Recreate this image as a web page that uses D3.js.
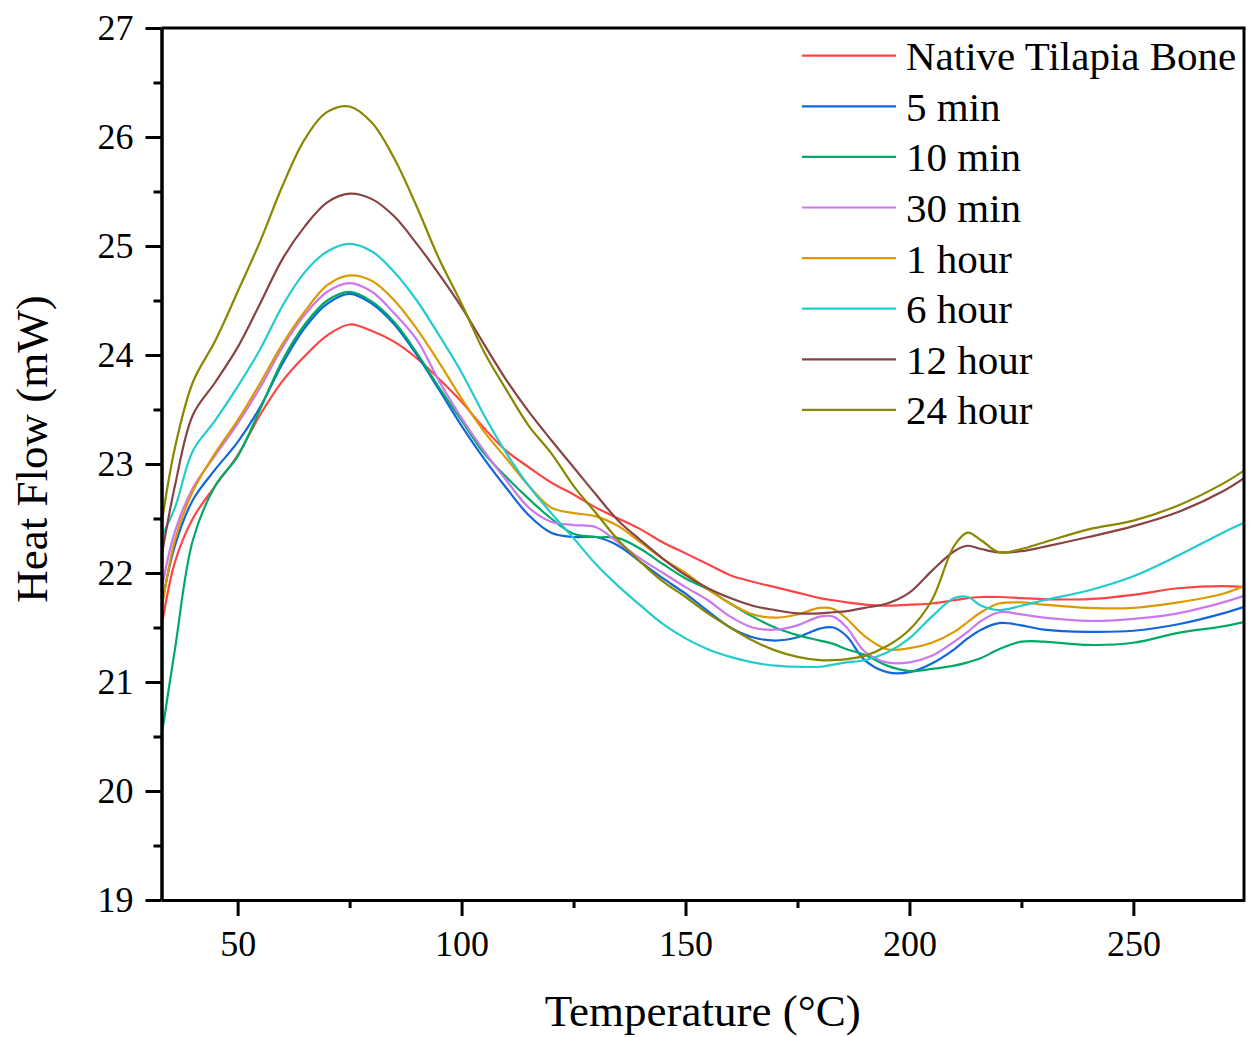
<!DOCTYPE html>
<html>
<head>
<meta charset="utf-8">
<script src="https://cdn.jsdelivr.net/npm/d3@7"></script>
<style>
html,body{margin:0;padding:0;background:#fff;}
svg{display:block;}
text{font-family:"Liberation Serif","Times New Roman",serif;fill:#000;}
</style>
</head>
<body>
<svg id="chart" width="1250" height="1037"></svg>
<script>
// ---- data ----
const temps = [33,36,40,45,50,55,60,65,70,75,80,85,90,95,100,105,110,115,120,125,130,135,140,145,150,155,160,165,170,175,180,183,186,190,195,200,205,210,213,216,220,225,230,240,250,260,270,274.7];

const seriesNames = ["Native Tilapia Bone","5 min","10 min","30 min","1 hour","6 hour","12 hour","24 hour"];
const seriesColors = ["#ff4444","#1166dd","#00aa66","#cc77ee","#dd9900","#22cccc","#884444","#888800"];

const nativeBone = [21.5,22.1,22.5,22.8,23.08,23.45,23.76,23.99,24.18,24.28,24.22,24.12,23.97,23.78,23.57,23.33,23.12,22.97,22.83,22.72,22.6,22.5,22.4,22.28,22.18,22.08,21.98,21.92,21.87,21.82,21.77,21.75,21.73,21.71,21.7,21.71,21.72,21.75,21.77,21.78,21.78,21.77,21.76,21.76,21.8,21.86,21.88,21.87];
const min5 = [21.7,22.25,22.67,22.95,23.2,23.52,23.92,24.25,24.47,24.56,24.47,24.28,24.0,23.68,23.35,23.05,22.78,22.53,22.37,22.33,22.33,22.25,22.1,21.95,21.81,21.65,21.5,21.41,21.38,21.41,21.49,21.5,21.42,21.2,21.09,21.09,21.17,21.3,21.4,21.48,21.54,21.52,21.48,21.46,21.47,21.53,21.63,21.69];
const min10 = [20.5,21.3,22.3,22.8,23.07,23.5,23.95,24.28,24.5,24.58,24.49,24.3,24.02,23.7,23.4,23.1,22.88,22.68,22.5,22.36,22.33,22.32,22.22,22.08,21.95,21.85,21.72,21.6,21.5,21.43,21.38,21.35,21.3,21.25,21.15,21.1,21.12,21.15,21.18,21.22,21.3,21.37,21.37,21.34,21.36,21.45,21.51,21.55];
const min30 = [21.85,22.38,22.78,23.08,23.37,23.7,24.07,24.37,24.58,24.66,24.58,24.38,24.14,23.76,23.42,23.12,22.85,22.6,22.47,22.44,22.42,22.28,22.13,22.0,21.87,21.75,21.6,21.5,21.48,21.52,21.6,21.6,21.5,21.28,21.18,21.18,21.24,21.37,21.46,21.56,21.64,21.62,21.59,21.56,21.58,21.63,21.73,21.79];
const hour1 = [21.65,22.3,22.75,23.1,23.4,23.74,24.1,24.4,24.64,24.73,24.68,24.5,24.24,23.93,23.6,23.3,23.05,22.8,22.6,22.55,22.52,22.43,22.28,22.13,22.0,21.85,21.72,21.62,21.59,21.62,21.68,21.67,21.58,21.42,21.3,21.31,21.36,21.46,21.55,21.64,21.72,21.73,21.71,21.68,21.68,21.73,21.81,21.88];
const hour6 = [22.33,22.6,23.12,23.4,23.71,24.05,24.45,24.76,24.95,25.02,24.95,24.76,24.5,24.18,23.84,23.45,23.1,22.8,22.55,22.32,22.08,21.88,21.7,21.53,21.4,21.3,21.23,21.18,21.15,21.14,21.14,21.16,21.18,21.2,21.27,21.4,21.6,21.77,21.78,21.7,21.66,21.7,21.75,21.84,21.97,22.16,22.37,22.46];
const hour12 = [22.15,22.8,23.45,23.75,24.07,24.47,24.88,25.18,25.4,25.48,25.43,25.27,25.02,24.74,24.44,24.1,23.77,23.48,23.22,22.97,22.72,22.48,22.3,22.13,21.98,21.86,21.77,21.7,21.66,21.63,21.63,21.64,21.65,21.68,21.72,21.82,22.02,22.2,22.25,22.22,22.19,22.2,22.24,22.33,22.43,22.56,22.75,22.87];
const hour24 = [22.45,23.15,23.75,24.13,24.58,25.04,25.55,25.98,26.23,26.28,26.13,25.8,25.36,24.88,24.47,24.03,23.68,23.35,23.1,22.8,22.55,22.3,22.1,21.92,21.78,21.63,21.5,21.38,21.29,21.23,21.2,21.2,21.21,21.24,21.33,21.48,21.75,22.25,22.37,22.3,22.19,22.22,22.28,22.4,22.48,22.62,22.82,22.94];

const seriesValues = [nativeBone,min5,min10,min30,hour1,hour6,hour12,hour24];

const xMajorTicks = [50,100,150,200,250];
const xMinorTicks = [75,125,175,225];
const yMajorTicks = [19,20,21,22,23,24,25,26,27];
const yMinorTicks = [19.5,20.5,21.5,22.5,23.5,24.5,25.5,26.5];

// ---- layout ----
const svg = d3.select("#chart");
const pL = 161.5, pR = 1244, pT = 28, pB = 900;
const x = d3.scaleLinear().domain([33, 274.7]).range([pL, pR]);
const y = d3.scaleLinear().domain([19, 27]).range([pB, pT]);

svg.append("defs").append("clipPath").attr("id","clip")
  .append("rect").attr("x",pL).attr("y",pT).attr("width",pR-pL).attr("height",pB-pT);

// curves
const line = d3.line().x(d=>x(d[0])).y(d=>y(d[1])).curve(d3.curveCatmullRom.alpha(0.5));
const gLines = svg.append("g").attr("clip-path","url(#clip)");
seriesValues.forEach((vals,i)=>{
  gLines.append("path")
    .datum(temps.map((t,j)=>[t,vals[j]]))
    .attr("d",line)
    .attr("fill","none")
    .attr("stroke",seriesColors[i])
    .attr("stroke-width",2.2)
    .attr("stroke-linejoin","round");
});

// axes
function styleAxis(g){
  g.selectAll(".domain").attr("stroke","#000").attr("stroke-width",3);
  g.selectAll(".tick line").attr("stroke","#000").attr("stroke-width",3);
  g.selectAll(".tick text").style("font-family","'Liberation Serif','Times New Roman',serif").style("font-size","36px").attr("fill","#000");
}
const xAxis = svg.append("g").attr("transform",`translate(0,${pB})`)
  .call(d3.axisBottom(x).tickValues(xMajorTicks).tickSize(16).tickPadding(14).tickFormat(d3.format("d")).tickSizeOuter(0));
styleAxis(xAxis);
const xMinor = svg.append("g").attr("transform",`translate(0,${pB})`)
  .call(d3.axisBottom(x).tickValues(xMinorTicks).tickSize(8).tickFormat("").tickSizeOuter(0));
styleAxis(xMinor);

const yAxis = svg.append("g").attr("transform",`translate(${pL},0)`)
  .call(d3.axisLeft(y).tickValues(yMajorTicks).tickSize(16).tickPadding(12).tickFormat(d3.format("d")).tickSizeOuter(0));
styleAxis(yAxis);
const yMinor = svg.append("g").attr("transform",`translate(${pL},0)`)
  .call(d3.axisLeft(y).tickValues(yMinorTicks).tickSize(8).tickFormat("").tickSizeOuter(0));
styleAxis(yMinor);

// frame top/right
svg.append("line").attr("x1",pL).attr("x2",pR+1.5).attr("y1",pT).attr("y2",pT).attr("stroke","#000").attr("stroke-width",3);
svg.append("line").attr("x1",pR).attr("x2",pR).attr("y1",pT).attr("y2",pB+1.5).attr("stroke","#000").attr("stroke-width",3);

// titles
svg.append("text").attr("x",(pL+pR)/2).attr("y",1026).attr("text-anchor","middle")
  .style("font-size","45px").text("Temperature (°C)");
svg.append("text").attr("transform","translate(47,449) rotate(-90)").attr("text-anchor","middle")
  .style("font-size","45px").text("Heat Flow (mW)");

// legend
const legend = svg.append("g");
seriesNames.forEach((name,i)=>{
  const yy = 55.7 + i*50.6;
  legend.append("line").attr("x1",802).attr("x2",896).attr("y1",yy).attr("y2",yy)
    .attr("stroke",seriesColors[i]).attr("stroke-width",2.2);
  legend.append("text").attr("x",906).attr("y",yy+14.5).style("font-size","41px").text(name);
});
</script>
</body>
</html>
